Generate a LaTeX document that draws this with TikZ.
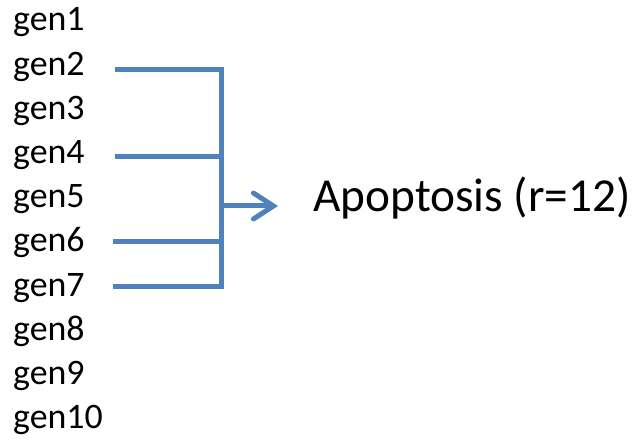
\documentclass[tikz,border=0pt]{standalone}
\usepackage{fontspec}
\setmainfont{Carlito}
\usetikzlibrary{arrows.meta}
\definecolor{officeblue}{HTML}{4F81BD}
\begin{document}
\begin{tikzpicture}[x=1bp,y=-1bp,
  gene/.style={anchor=base west,inner sep=0pt,font=\fontsize{36}{42}\selectfont},
  bus/.style={draw=officeblue,line width=5bp},
  result/.style={anchor=base west,inner sep=0pt,font=\fontsize{47.5}{56}\selectfont}]
\useasboundingbox (0,0) rectangle (638,440);
\foreach \i in {1,...,10} {
  \node[gene] (g\i) at (13,{31+44.2*(\i-1)}) {gen\i};
}
\coordinate (s2) at (115,70);
\coordinate (s4) at (115,157);
\coordinate (s6) at (113,242);
\coordinate (s7) at (113,287);
\coordinate (t2) at (221,70);
\coordinate (t4) at (221,157);
\coordinate (t6) at (221,242);
\coordinate (t7) at (221,287);
\coordinate (m) at (221,206);
\coordinate (tip) at (278,206);
\node[result] (apo) at (313,212) {Apoptosis (r=12)};
\draw[bus,line join=miter] (s2) -- (t2) -- (t7) -- (s7);
\draw[bus] (s4) -- (t4);
\draw[bus] (s6) -- (t6);
\draw[bus,-{Straight Barb[length=20bp,width=26bp,line cap=round]}] (m) -- (tip);
\end{tikzpicture}
\end{document}
